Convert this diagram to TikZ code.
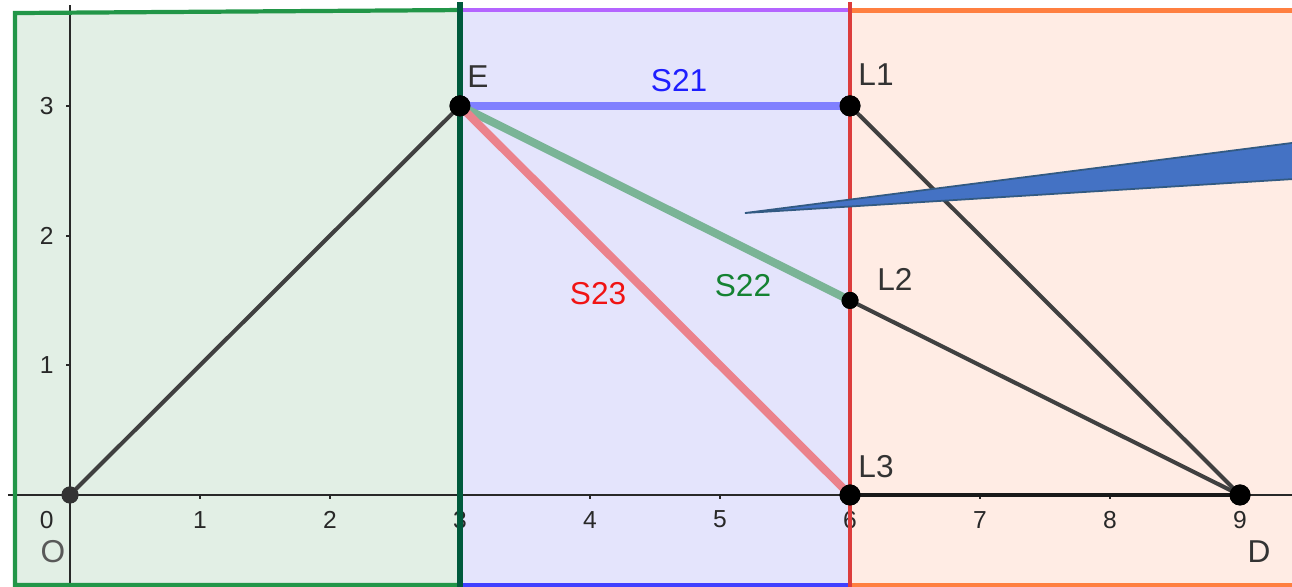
\documentclass[tikz,border=0pt]{standalone}
\usepackage{fontspec}
\setmainfont{Liberation Sans}
\definecolor{grnB}{RGB}{34,150,72}
\definecolor{grnD}{RGB}{0,90,60}
\definecolor{grnF}{RGB}{226,239,229}
\definecolor{purF}{RGB}{228,228,252}
\definecolor{purT}{RGB}{180,100,255}
\definecolor{bluB}{RGB}{64,64,255}
\definecolor{redB}{RGB}{220,60,60}
\definecolor{oraF}{RGB}{255,236,228}
\definecolor{oraB}{RGB}{255,127,64}
\definecolor{sA}{RGB}{128,128,255}
\definecolor{sAt}{RGB}{30,30,255}
\definecolor{sB}{RGB}{122,180,150}
\definecolor{sBt}{RGB}{20,130,50}
\definecolor{sC}{RGB}{235,130,140}
\definecolor{sCt}{RGB}{240,20,20}
\definecolor{wedF}{RGB}{68,114,196}
\definecolor{wedD}{RGB}{50,90,130}
\definecolor{segG}{RGB}{64,64,64}
\definecolor{axC}{RGB}{40,40,40}
\tikzset{
  bigdot/.style={circle,fill=black,inner sep=0pt,minimum size=0.21cm},
  smalldot/.style={circle,fill=black,inner sep=0pt,minimum size=0.17cm},
  ptlabel/.style={font=\fontsize{9}{10}\selectfont,text=black!80,inner sep=0pt},
  seglabel/.style={font=\fontsize{9}{10}\selectfont,inner sep=0pt},
  ticklabel/.style={font=\fontsize{7}{8}\selectfont,text=axC,inner sep=0pt},
  greyseg/.style={draw=segG,line width=1.15pt},
  thickseg/.style={line width=2.3pt},
  border/.style={line width=1.2pt},
}
\begin{document}
\begin{tikzpicture}[x=1.3cm,y=1.297cm]
\clip (-0.5385,-0.7093) rectangle (9.4,3.8165);
% region fills
\fill[grnF] (-0.423,3.716) -- (3,3.739) -- (3,-0.694) -- (-0.423,-0.694) -- cycle;
\fill[purF] (3,3.739) rectangle (6,-0.694);
\fill[oraF] (6,3.735) rectangle (9.6,-0.694);
% axes
\draw[axC,line width=0.6pt] (-0.478,0) -- (9.5,0);
\draw[axC,line width=0.6pt] (0,-0.8) -- (0,3.78);
\foreach \i in {1,...,9} {
  \draw[axC,line width=0.6pt] (\i,0) -- (\i,-0.03);
  \node[ticklabel] (tx\i) at (\i,-0.19) {\i};
}
\foreach \j in {1,2,3} {
  \draw[axC,line width=0.6pt] (0,\j) -- (-0.03,\j);
  \node[ticklabel] (ty\j) at (-0.18,\j) {\j};
}
\node[ticklabel] (tx0) at (-0.18,-0.19) {0};
% region borders
\draw[grnB,border] (3,3.739) -- (-0.423,3.716) -- (-0.423,-0.694) -- (3,-0.694);
\draw[purT,border] (3,3.739) -- (6,3.739);
\draw[bluB,border] (3,-0.694) -- (6,-0.694);
\draw[oraB,border] (6,3.735) -- (9.6,3.735);
\draw[oraB,border] (6,-0.694) -- (9.6,-0.694);
\draw[grnD,line width=1.5pt] (3,3.8) -- (3,-0.8);
\draw[redB,line width=1.3pt] (6,3.8) -- (6,-0.8);
% points
\node[smalldot,fill=segG!80!black] (O) at (0,0) {};
\node[bigdot] (E) at (3,3) {};
\node[bigdot] (L1) at (6,3) {};
\node[smalldot] (L2) at (6,1.5) {};
\node[bigdot] (L3) at (6,0) {};
\node[bigdot] (D) at (9,0) {};
% segments
\draw[greyseg] (O.center) -- (E.center);
\draw[sA,thickseg] (E.center) -- (L1.center);
\draw[sB,thickseg] (E.center) -- (L2.center);
\draw[sC,thickseg] (E.center) -- (L3.center);
\draw[greyseg] (L1.center) -- (D.center);
\draw[greyseg] (L2.center) -- (D.center);
\draw[greyseg,draw=black!90] (L3.center) -- (D.center);
% redraw dots on top
\node[smalldot,fill=segG!80!black] at (O) {};
\node[bigdot] at (E) {};
\node[bigdot] at (L1) {};
\node[smalldot] at (L2) {};
\node[bigdot] at (L3) {};
\node[bigdot] at (D) {};
% labels
\node[ptlabel] (lE) at (3.138,3.223) {E};
\node[ptlabel] (lL1) at (6.2,3.238) {L1};
\node[ptlabel] (lL2) at (6.346,1.658) {L2};
\node[ptlabel] (lL3) at (6.2,0.216) {L3};
\node[ptlabel,text=black!65] (lO) at (-0.131,-0.44) {O};
\node[ptlabel] (lD) at (9.146,-0.44) {D};
\node[seglabel,text=sAt] (lS21) at (4.685,3.192) {S21};
\node[seglabel,text=sBt] (lS22) at (5.177,1.611) {S22};
\node[seglabel,text=sCt] (lS23) at (4.062,1.55) {S23};
% callout pointer
\coordinate (tip) at (5.192,2.174);
\filldraw[fill=wedF,draw=wedD,line width=0.5pt] (tip) -- (9.46,2.722) -- (9.46,2.439) -- cycle;
\end{tikzpicture}
\end{document}
